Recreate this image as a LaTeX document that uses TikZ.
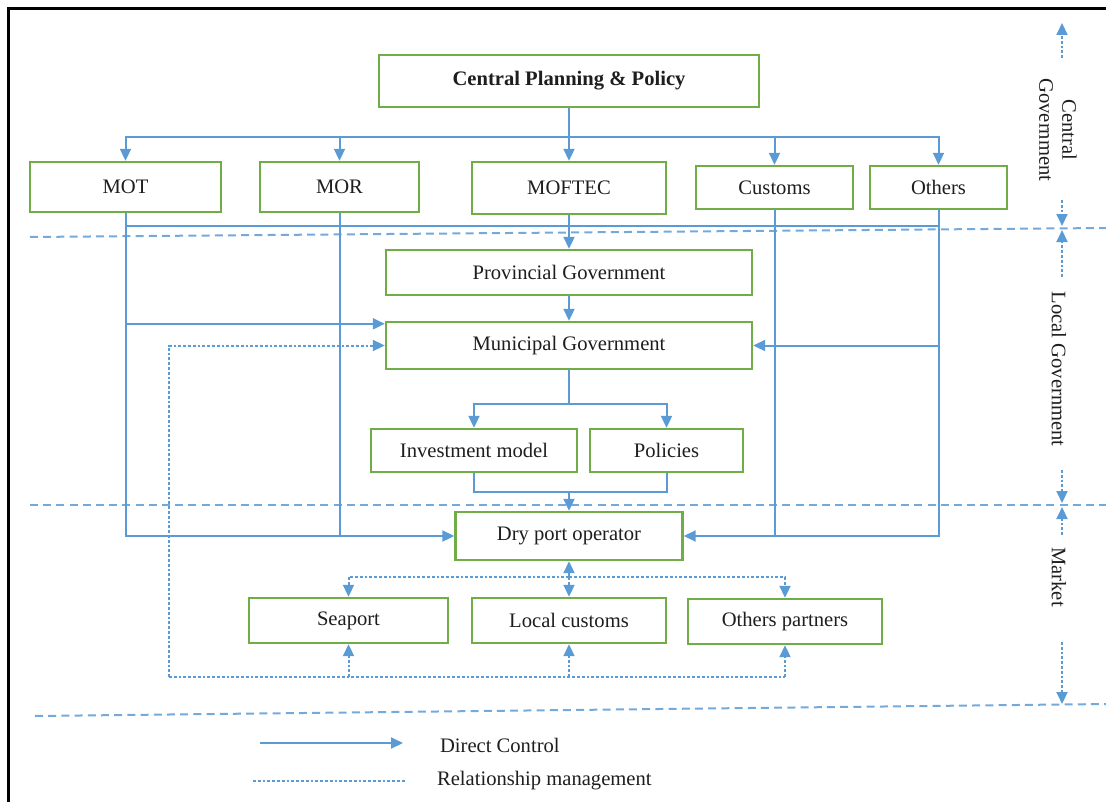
\documentclass[tikz,border=0pt]{standalone}
\usepackage{fontspec}
\setmainfont{Liberation Serif}
\usetikzlibrary{arrows.meta,calc}
\definecolor{lblue}{HTML}{5B9BD5}
\definecolor{lgreen}{HTML}{70AD47}
\definecolor{link}{HTML}{1E1E1E}
\tikzset{
  orgbox/.style={
    draw=lgreen, line width=1.2pt, fill=white, inner sep=0pt,
    text=link, font=\fontsize{10.3}{12}\selectfont},
  ctrl/.style={-{Triangle[length=6pt,width=5.5pt]}, draw=lblue,
    line width=1pt},
  wire/.style={draw=lblue, line width=1pt},
  rel/.style={draw=lblue, line width=1pt, dash pattern=on 1.4pt off 1pt},
  relarr/.style={rel, -{Triangle[length=6pt,width=5.5pt]}},
  sep/.style={draw=lblue!85, line width=1pt, dash pattern=on 4pt off 2.6pt},
  tier/.style={rotate=-90, align=center, text=link,
    font=\fontsize{10.3}{11.5}\selectfont},
  legtext/.style={anchor=west, text=link, font=\fontsize{10.3}{12}\selectfont},
}

\begin{document}
\begin{tikzpicture}[x=0.5pt,y=-0.5pt]
\useasboundingbox (0,0) rectangle (1106,802);

% frame
\draw[line width=1.5pt] (8,802) -- (8,9) -- (1106,9);

% tier separators
\draw[sep] (30,237) -- (1106,228);
\draw[sep] (30,505) -- (1106,505);
\draw[sep] (35,716) -- (1106,704);

% central government
\node[orgbox,minimum width=190pt,minimum height=26pt] (cpp) at (569,81)
  {\textbf{Central Planning \& Policy}};
\node[orgbox,minimum width=95.5pt,minimum height=25pt] (mot) at (125.5,187) {MOT};
\node[orgbox,minimum width=79.5pt,minimum height=25pt] (mor) at (339.5,187) {MOR};
\node[orgbox,minimum width=97pt,minimum height=26pt] (moftec) at (569,188) {MOFTEC};
\node[orgbox,minimum width=78.5pt,minimum height=21.5pt] (customs) at (774.5,187.5) {Customs};
\node[orgbox,minimum width=68.5pt,minimum height=21.5pt] (others) at (938.5,187.5) {Others};

% local government
\node[orgbox,minimum width=183pt,minimum height=22.5pt] (prov) at (569,272.5)
  {Provincial Government};
\node[orgbox,minimum width=183pt,minimum height=23.5pt] (muni) at (569,345.5)
  {Municipal Government};
\node[orgbox,minimum width=103pt,minimum height=21.5pt] (invest) at (474,450.5)
  {Investment model};
\node[orgbox,minimum width=76.5pt,minimum height=21.5pt] (policy) at (666.5,450.5)
  {Policies};

% market
\node[orgbox,minimum width=113.5pt,minimum height=24pt] (dryport) at (569,536)
  {Dry port operator};
\node[orgbox,minimum width=99.5pt,minimum height=22.5pt] (seaport) at (348.5,620.5)
  {Seaport};
\node[orgbox,minimum width=97pt,minimum height=22.5pt] (lcustoms) at (569,620.5)
  {Local customs};
\node[orgbox,minimum width=97pt,minimum height=22.5pt] (partners) at (785,621.5)
  {Others partners};

% direct control from the centre
\coordinate (topbus) at (569,137);
\draw[ctrl] (cpp.south) -- (moftec.north);
\foreach \n in {mot,mor,customs,others}
  \draw[ctrl] (topbus) -| (\n.north);
\coordinate (cbus) at (0,226);
\draw[wire] (mot.south|-cbus) -- (others.south|-cbus);
\draw[ctrl] (moftec.south) -- (prov.north);
\draw[ctrl] (prov.south) -- (muni.north);

% ministries down to the municipal level and the operator
\coordinate (mrow) at ($(muni.north west)+(0,3)$);
\draw[ctrl] (mot.south|-mrow) -- (mrow);
\draw[ctrl] (mot.south) |- (dryport.west);
\draw[wire] (mor.south) -- (mor.south|-dryport.west);
\draw[wire] (customs.south) -- (customs.south|-dryport.east);
\draw[ctrl] (others.south) |- (dryport.east);
\draw[ctrl] (others.south|-muni.east) -- (muni.east);

% municipal tools
\coordinate (mbus) at (569,404);
\coordinate (dbus) at (569,492);
\draw[wire] (muni.south) -- (mbus);
\draw[ctrl] (mbus) -| (invest.north);
\draw[ctrl] (mbus) -| (policy.north);
\draw[wire] (invest.south) |- (dbus);
\draw[wire] (policy.south) |- (dbus);
\draw[ctrl] (dbus) -- (dryport.north);

% relationship management
\coordinate (rbus) at (569,577);
\draw[rel,{Triangle[length=6pt,width=5.5pt]}-{Triangle[length=6pt,width=5.5pt]}]
  (dryport.south) -- (lcustoms.north);
\draw[relarr] (rbus) -| (seaport.north);
\draw[relarr] (rbus) -| (partners.north);
\coordinate (lbus) at (169,677);
\draw[relarr] (lbus) |- (muni.west);
\draw[rel] (lbus) -- (partners.south|-lbus);
\foreach \n in {seaport,lcustoms,partners}
  \draw[relarr] (\n.south|-lbus) -- (\n.south);

% tiers
\node[tier] (cgov) at (1058,130) {Central\\Government};
\node[tier] (lgov) at (1059,369) {Local Government};
\node[tier] (mkt) at (1059,577) {Market};
\coordinate (s0) at (1062,23);
\coordinate (s1) at (1062,228);
\coordinate (s2) at (1062,505);
\coordinate (s3) at (1062,704);
\draw[relarr] (s0|-0,58) -- (s0);
\draw[relarr] (s1|-0,200) -- ($(s1)+(0,-2)$);
\draw[relarr] (s1|-0,277) -- ($(s1)+(0,2)$);
\draw[relarr] (s2|-0,470) -- ($(s2)+(0,-2)$);
\draw[relarr] (s2|-0,535) -- ($(s2)+(0,2)$);
\draw[relarr] (s3|-0,642) -- (s3);

% legend
\coordinate (lg1) at (260,743);
\coordinate (lg2) at (253,781);
\draw[ctrl] (lg1) -- ++(143,0);
\node[legtext] (lgctrl) at (433,745) {Direct Control};
\draw[rel] (lg2) -- ++(152,0);
\node[legtext] (lgrel) at (430,781) {Relationship management};

\end{tikzpicture}
\end{document}
